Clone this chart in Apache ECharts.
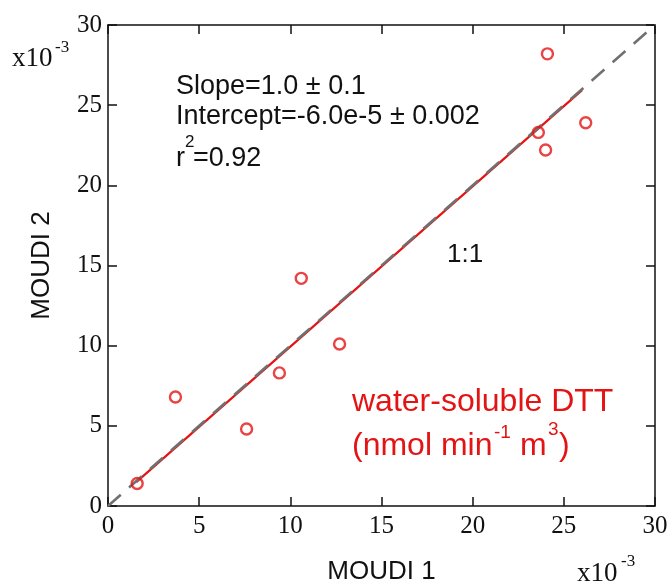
<!DOCTYPE html>
<html><head><meta charset="utf-8">
<script src="https://cdn.jsdelivr.net/npm/echarts@6/dist/echarts.min.js"></script>
<style>html,body{margin:0;padding:0;background:#fff}#c{width:669px;height:586px}</style>
</head><body><div id="c"></div>
<script>
// values in units of 1e-3 nmol min^-1 m^-3
var moudi1 = [1.6, 3.7, 7.6, 9.4, 10.6, 12.7, 23.6, 24.0, 24.1, 26.2];
var moudi2 = [1.4, 6.8, 4.8, 8.3, 14.2, 10.1, 23.3, 22.2, 28.2, 23.9];
var fitX = [1.55, 26.0];
var fitY = [1.49, 25.94];
var oneToOneX = [0, 30];
var oneToOneY = [0, 30];
var tickLabels = ['0', '5', '10', '15', '20', '25', '30'];

var pts = moudi1.map(function (x, i) { return [x, moudi2[i]]; });
var fit = fitX.map(function (x, i) { return [x, fitY[i]]; });
var oto = oneToOneX.map(function (x, i) { return [x, oneToOneY[i]]; });

var serif = '"Liberation Serif", "Times New Roman", serif';
var sans = '"Liberation Sans", Arial, sans-serif';
var RED = '#e31414';

function fmt(v) { return tickLabels[Math.round(v / 5)]; }

function axisBase(extra) {
  var a = {
    type: 'value', min: 0, max: 30, interval: 5,
    axisLine: { show: true, onZero: false, lineStyle: { color: '#111', width: 1.5 } },
    axisTick: { show: true, inside: true, length: 9, lineStyle: { color: '#111', width: 1.5 } },
    splitLine: { show: false },
    axisLabel: { show: false }
  };
  for (var k in extra) a[k] = extra[k];
  return a;
}

var chart = echarts.init(document.getElementById('c'));
chart.setOption({
  animation: false,
  grid: { left: 108, right: 14, top: 25, bottom: 80, containLabel: false, outerBoundsMode: 'none' },
  xAxis: [
    axisBase({ position: 'bottom',
      axisLabel: { show: true, color: '#111', fontFamily: serif, fontSize: 25, margin: 8, formatter: fmt },
      name: 'MOUDI 1', nameLocation: 'middle', nameGap: 53,
      nameTextStyle: { color: '#111', fontFamily: sans, fontSize: 26 } }),
    axisBase({ position: 'top' })
  ],
  yAxis: [
    axisBase({ position: 'left',
      axisLabel: { show: true, color: '#111', fontFamily: serif, fontSize: 25, margin: 6, formatter: fmt },
      name: 'MOUDI 2', nameLocation: 'middle', nameGap: 53,
      nameTextStyle: { color: '#111', fontFamily: sans, fontSize: 26 } }),
    axisBase({ position: 'right' })
  ],
  series: [
    { type: 'line', data: fit, symbol: 'none', lineStyle: { color: RED, width: 2.2 }, z: 2 },
    { type: 'line', data: oto, symbol: 'none', lineStyle: { color: '#707070', width: 2.6, type: [17, 11] }, z: 3 },
    { type: 'scatter', data: pts, symbol: 'circle', symbolSize: 11,
      itemStyle: { color: 'rgba(255,255,255,0)', borderColor: RED, borderWidth: 2.4 }, z: 4 }
  ],
  graphic: [
    { type: 'text', left: 12, top: 45, style: { text: 'x10', fontFamily: serif, fontSize: 27, fill: '#111' } },
    { type: 'text', left: 55, top: 39, style: { text: '-3', fontFamily: serif, fontSize: 17, fill: '#111' } },
    { type: 'text', left: 577, top: 560, style: { text: 'x10', fontFamily: serif, fontSize: 27, fill: '#111' } },
    { type: 'text', left: 621, top: 553, style: { text: '-3', fontFamily: serif, fontSize: 17, fill: '#111' } },

    { type: 'text', left: 176, top: 73, style: { text: 'Slope=1.0 \u00b1 0.1', fontFamily: sans, fontSize: 27, fill: '#111' } },
    { type: 'text', left: 176, top: 103, style: { text: 'Intercept=-6.0e-5 \u00b1 0.002', fontFamily: sans, fontSize: 27, fill: '#111' } },
    { type: 'text', left: 176, top: 145, style: { text: 'r', fontFamily: sans, fontSize: 27, fill: '#111' } },
    { type: 'text', left: 185, top: 134, style: { text: '2', fontFamily: sans, fontSize: 17, fill: '#111' } },
    { type: 'text', left: 193, top: 145, style: { text: '=0.92', fontFamily: sans, fontSize: 27, fill: '#111' } },

    { type: 'text', left: 447, top: 242, style: { text: '1:1', fontFamily: sans, fontSize: 26, fill: '#111' } },

    { type: 'text', left: 352, top: 386, style: { text: 'water-soluble DTT', fontFamily: sans, fontSize: 32, fill: RED } },
    { type: 'text', left: 352, top: 430, style: { text: '(nmol min', fontFamily: sans, fontSize: 32, fill: RED } },
    { type: 'text', left: 494, top: 423, style: { text: '-1', fontFamily: sans, fontSize: 19, fill: RED } },
    { type: 'text', left: 520, top: 430, style: { text: 'm', fontFamily: sans, fontSize: 32, fill: RED } },
    { type: 'text', left: 548, top: 420, style: { text: '3', fontFamily: sans, fontSize: 19, fill: RED } },
    { type: 'text', left: 559, top: 430, style: { text: ')', fontFamily: sans, fontSize: 32, fill: RED } }
  ]
});
</script></body></html>
